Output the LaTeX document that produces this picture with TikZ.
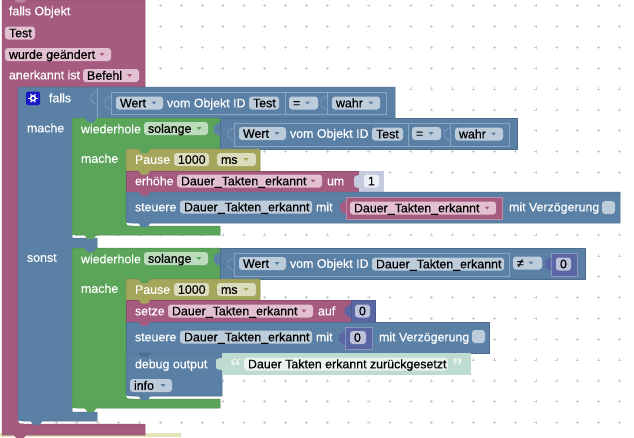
\documentclass[tikz,border=0pt]{standalone}
\usepackage{fontspec}
\usetikzlibrary{calc}
\setmainfont{Liberation Sans}[RawFeature={embolden=0.3}]
\newfontfamily\qfont{Liberation Serif}
\definecolor{mg}{HTML}{A55B80}\definecolor{mgf}{HTML}{E2C0D2}
\definecolor{bl}{HTML}{5B80A5}\definecolor{blf}{HTML}{BDCCDB}
\definecolor{gr}{HTML}{5BA55B}\definecolor{grf}{HTML}{BDDBBD}
\definecolor{ol}{HTML}{A5A55B}\definecolor{olf}{HTML}{DBDBBD}
\definecolor{nu}{HTML}{5B67A5}\definecolor{nuf}{HTML}{BDC2DB}
\definecolor{tx}{HTML}{BDDBD1}\definecolor{txf}{HTML}{EAF3EF}
\definecolor{ns}{HTML}{C6CADF}\definecolor{nsf}{HTML}{EEF0F7}
\definecolor{gridc}{HTML}{CCCCCC}
\definecolor{ye}{HTML}{E4E4B8}
\newcount\tc
\tikzset{
 blk/.style={fill=#1,draw=#1!85!black,line width=.5pt},
 lbl/.style={anchor=base west,inner sep=0pt,outer sep=0pt,font=\fontsize{12.4}{14}\selectfont},
 fld/.style={fill=#1,rounded corners=3pt},
}
\newcommand{\lab}[4]{\global\advance\tc by 1\node[lbl,text=#3] (t\the\tc) at (#1,#2+4.3) {#4};}
\newcommand{\fl}[5]{\fill[fld=#4] (#1,#3-6.5) rectangle (#2,#3+6.5);\lab{#1+4}{#3}{black}{#5}}
\newcommand{\da}[3]{\fill[#3] (#1-2.5,#2-1.5) -- (#1+2.5,#2-1.5) -- (#1,#2+1.5) -- cycle;}
\newcommand{\nt}[3]{\fill[#3] (#1+12,#2-.5) -- (#1+15.5,#2+4) -- (#1+21.5,#2+4) -- (#1+25,#2-.5) -- cycle;}
\newcommand{\tb}[4]{\filldraw[fill=#3,draw=#4,line width=.5pt] (#1,#2-6) -- (#1-3,#2-6) -- (#1-3,#2-4) -- (#1-6,#2-3.5) -- (#1-6,#2+3.5) -- (#1-3,#2+4) -- (#1-3,#2+6) -- (#1,#2+6);}
\newcommand{\ins}[5]{\filldraw[fill=#5,draw=#5!70!white,line width=.7pt] (#1,#2) rectangle (#3,#4);}
\newcommand{\cb}[8]{\filldraw[blk=#1] (#2+5,#5) -- (#4,#5) -- (#4,#6) -- (#3,#6) -- (#3,#7-6) .. controls (#3,#7) .. (#3+6,#7) -- (#4,#7) -- (#4,#8) -- (#2+5,#8) .. controls (#2,#8) .. (#2,#8-5) -- (#2,#5+5) .. controls (#2,#5) .. (#2+5,#5) -- cycle;}
\begin{document}
\begin{tikzpicture}[x=1pt,y=-1pt]
\useasboundingbox (0,0) rectangle (634,437);
\clip (0,0) rectangle (634,437);
\fill[white] (0,0) rectangle (634,437);
% grid
\foreach \i in {0,...,31}{\foreach \j in {0,...,20}{
 \draw[gridc,line width=.4pt] ({-6.5+20.86*\i-1.5},{5.5+20.85*\j}) -- ++(3,0) ({-6.5+20.86*\i},{5.5+20.85*\j-1.5}) -- ++(0,3);}}
% strip under
\fill[ye] (0,433) rectangle (181,437);
% magenta hat block
\filldraw[blk=mg] (2,0) -- (145,0) -- (145,87) -- (18,87) -- (18,418) .. controls (18,424) .. (24,424) -- (145,424) -- (145,435) -- (2,435) -- cycle;
\fill[mg!75!white] (14,0) -- (18,2.5) -- (23,2.5) -- (27,0) -- cycle;
\nt{1.5}{435}{mg}
\lab{9}{11}{white}{falls Objekt}
\fl{5}{35}{33}{mgf}{Test}
\fl{5}{111}{54.5}{mgf}{wurde geändert}\da{102}{54.5}{mg}
\lab{9}{75}{white}{anerkannt ist}
\fl{83}{139}{75.5}{mgf}{Befehl}\da{129.5}{75.5}{mg}
% blue if block
\filldraw[blk=bl] (23,87) -- (395,87) -- (395,119) -- (72,119) -- (72,238) -- (97,238) -- (97,248) -- (72,248) -- (72,412) -- (97,412) -- (97,421) -- (24,421) .. controls (18,421) .. (18,415) -- (18,93) .. controls (18,87) .. (24,87) -- cycle;
\nt{18}{421}{bl}
\fill[blue!75!black!90!white,rounded corners=1.5pt] (26,91.5) rectangle (40,105);
\draw[white,line width=1.5pt] (33,98.2) circle (2.4);
\foreach \a in {0,60,...,300}{\draw[white,line width=1.2pt] ($(33,98.2)+(\a:3)$) -- ($(33,98.2)+(\a:4.6)$);}
\lab{49}{98}{white}{falls}
\draw[bl!70!white,line width=.7pt] (97,87.5) -- (97,118.5);
\tb{97}{98}{bl}{bl!70!white}
\ins{111}{92}{386}{114}{bl}
\draw[bl!70!white,line width=.6pt] (285,92) -- (285,114);
\fill[bl] (285.5,92.5) rectangle (326.5,113.5);
\draw[bl!70!white,line width=.7pt] (327,92) rectangle (386,114);
\tb{111}{103}{bl}{bl!70!white}
\tb{327}{103}{bl}{bl!70!white}
\fl{116}{163}{103}{blf}{Wert}\da{154}{103}{bl}
\lab{167}{103}{white}{vom Objekt ID}
\fl{249}{279}{103}{blf}{Test}
\fl{289}{318}{103}{blf}{=}\da{307.5}{103}{bl}
\fl{332}{380}{103}{blf}{wahr}\da{371}{103}{bl}
\lab{27}{128}{white}{mache}
\lab{27}{257.5}{white}{sonst}
% green loop 1
\cb{gr}{72}{126}{220}{118}{149}{226}{235}
\filldraw[blk=bl] (220,118) rectangle (517,149);
\nt{72}{118}{bl}
\nt{72}{235}{gr}
\lab{81}{129}{white}{wiederhole}
\fl{144}{208}{128.5}{grf}{solange}\da{199}{128.5}{gr}
\tb{220}{129}{bl}{bl}
\ins{234}{123}{509}{146}{bl}
\draw[bl!70!white,line width=.6pt] (408.5,123) -- (408.5,146);
\fill[bl] (409,123.5) rectangle (449.6,145.5);
\tb{234}{134}{bl}{bl!70!white}
\draw[bl!70!white,line width=.7pt] (450,123) -- (450,146);
\tb{450}{134}{bl}{bl!70!white}
\fl{239}{286}{133.5}{blf}{Wert}\da{277}{133.5}{bl}
\lab{290}{133.5}{white}{vom Objekt ID}
\fl{372}{403}{134}{blf}{Test}
\fl{412}{441}{133.5}{blf}{=}\da{431}{133.5}{bl}
\fl{455}{503}{134}{blf}{wahr}\da{493.5}{134}{bl}
\lab{81}{158.5}{white}{mache}
% pause 1
\filldraw[blk=ol] (131,149) -- (260,149) -- (260,171) -- (126,171) -- (126,154) .. controls (126,149) .. (131,149) -- cycle;
\nt{126}{149}{gr}
\lab{135}{159.5}{white}{Pause}
\fl{174}{209}{159.5}{olf}{1000}
\fl{217}{256}{159.5}{olf}{ms}\da{246}{159.5}{ol}
% erhoehe
\filldraw[blk=mg] (126,171) rectangle (359,192);
\nt{126}{170.5}{ol}
\lab{135}{181}{white}{erhöhe}
\fl{177}{322}{181}{mgf}{Dauer\_Takten\_erkannt}\da{313}{181}{mg}
\lab{327}{181}{white}{um}
\fill[ns] (359,170.5) rectangle (384,192);
\fill[ns] (359,175) -- (355,176) -- (354,178) -- (354,185) -- (355,187) -- (359,188) -- cycle;
\fl{364}{379}{181}{nsf}{1}
% steuere 1
\filldraw[blk=bl] (126,192) -- (620,192) -- (620,223) -- (132,223) .. controls (126,223) .. (126,217) -- cycle;
\nt{126}{191.5}{mg}
\nt{126}{223}{bl}
\lab{135}{207}{white}{steuere}
\fl{180}{312}{207}{blf}{Dauer\_Takten\_erkannt}
\lab{316}{207}{white}{mit}
\ins{346}{197}{502}{219}{mg}
\tb{346}{207.5}{mg}{mg}
\fl{350}{496}{208}{mgf}{Dauer\_Takten\_erkannt}\da{487}{208}{mg}
\lab{509}{207}{white}{mit Verzögerung}
\fill[blf,rounded corners=3pt] (602,201) rectangle (615,214);
% green loop 2
\cb{gr}{72}{126}{220}{248}{279}{399}{408}
\filldraw[blk=bl] (220,248) rectangle (585,279);
\nt{72}{248}{bl}
\nt{72}{408}{gr}
\lab{81}{259}{white}{wiederhole}
\fl{144}{208}{258.5}{grf}{solange}\da{199}{258.5}{gr}
\tb{220}{259}{bl}{bl}
\ins{234}{253}{509}{276}{bl}
\tb{234}{264}{bl}{bl!70!white}
\fl{239}{286}{263.5}{blf}{Wert}\da{277}{263.5}{bl}
\lab{290}{263.5}{white}{vom Objekt ID}
\fl{372}{504}{264}{blf}{Dauer\_Takten\_erkannt}
\fl{513}{542}{263}{blf}{≠}\da{531}{263}{bl}
\ins{551}{253}{577}{276}{nu}
\tb{551}{264}{nu}{nu}
\fl{556}{571}{264}{nuf}{0}
\lab{81}{288.5}{white}{mache}
% pause 2
\filldraw[blk=ol] (131,279) -- (260,279) -- (260,300) -- (126,300) -- (126,284) .. controls (126,279) .. (131,279) -- cycle;
\nt{126}{279}{gr}
\lab{135}{289.5}{white}{Pause}
\fl{174}{209}{289.5}{olf}{1000}
\fl{217}{256}{289.5}{olf}{ms}\da{246}{289.5}{ol}
% setze
\filldraw[blk=mg] (126,300) rectangle (351,322);
\nt{126}{299.5}{ol}
\lab{135}{311}{white}{setze}
\fl{168}{313}{311}{mgf}{Dauer\_Takten\_erkannt}\da{304}{311}{mg}
\lab{318}{311}{white}{auf}
\filldraw[blk=nu] (351,300) rectangle (375,322);
\tb{351}{311}{nu}{nu}
\fl{355}{370}{311}{nuf}{0}
% steuere 2
\filldraw[blk=bl] (126,322) rectangle (489,353);
\nt{126}{321.5}{mg}
\lab{135}{337}{white}{steuere}
\fl{180}{312}{337}{blf}{Dauer\_Takten\_erkannt}
\lab{316}{337}{white}{mit}
\ins{345}{327}{372}{349}{nu}
\tb{345}{338}{nu}{nu}
\fl{350}{366}{337.5}{nuf}{0}
\lab{379}{337}{white}{mit Verzögerung}
\fill[blf,rounded corners=3pt] (472,330) rectangle (485,343);
% debug
\filldraw[blk=bl] (126,353) -- (222,353) -- (222,396) -- (132,396) .. controls (126,396) .. (126,390) -- cycle;
\nt{126}{396}{bl}
\fill[bl!85!black] (138,352.9) -- (141.5,356.6) -- (147.5,356.6) -- (151,352.9) -- cycle;
\lab{135}{364}{white}{debug output}
\fill[tx] (222,353) rectangle (471,374.5);
\fill[tx] (222,358) -- (218,358.5) -- (216,360) -- (216,368) -- (218,369.5) -- (222,370) -- cycle;
\node[lbl,text=txf,font=\fontsize{22}{22}\qfont\bfseries\selectfont] (q1) at (230,373) {“};
\fl{244}{448}{364}{txf}{Dauer Takten erkannt zurückgesetzt}
\node[lbl,text=txf,font=\fontsize{22}{22}\qfont\bfseries\selectfont] (q2) at (451.5,373) {”};
\fl{130}{172}{385.5}{blf}{info}\da{163}{385.5}{bl}
\end{tikzpicture}
\end{document}
